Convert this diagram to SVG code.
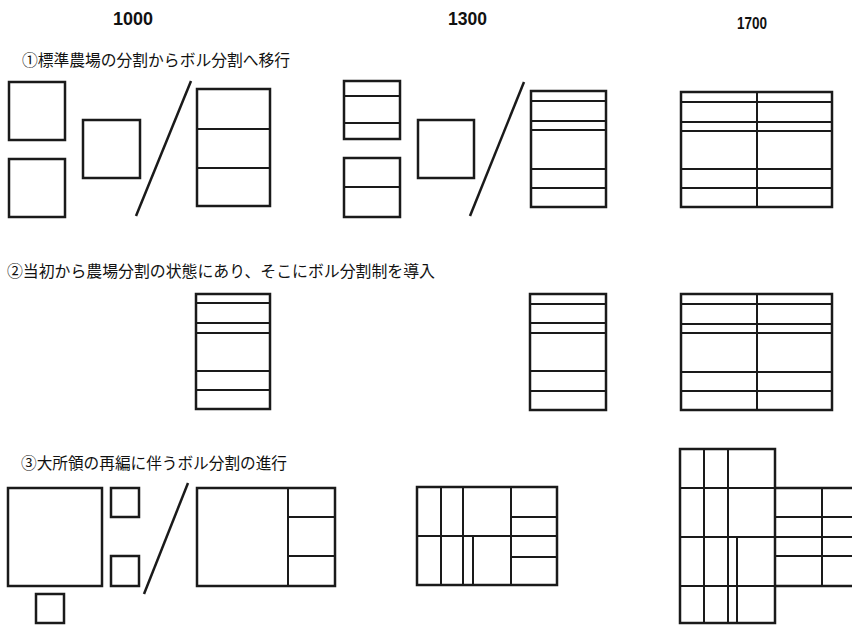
<svg xmlns="http://www.w3.org/2000/svg" width="852" height="625" viewBox="0 0 852 625">
<style>
.o{fill:none;stroke:#1a1a1a;stroke-width:2.5}
.l{fill:none;stroke:#1a1a1a;stroke-width:2}
.yr{font-family:"Liberation Sans",Arial,sans-serif;font-weight:bold;fill:#111}
.t{font-family:"Noto Sans CJK JP","Noto Sans CJK SC",sans-serif;font-size:16px;fill:#111}
</style>
<rect width="852" height="625" fill="#fff"/>
<g id="years">
<text class="yr" x="113" y="25" font-size="19" textLength="40" lengthAdjust="spacingAndGlyphs">1000</text>
<text class="yr" x="448" y="25" font-size="19" textLength="39" lengthAdjust="spacingAndGlyphs">1300</text>
<text class="yr" x="737" y="29" font-size="16" textLength="30" lengthAdjust="spacingAndGlyphs">1700</text>
</g>
<g id="titles">
<text class="t" x="22" y="66" textLength="268" lengthAdjust="spacingAndGlyphs">①標準農場の分割からボル分割へ移行</text>
<text class="t" x="7" y="277" textLength="428" lengthAdjust="spacingAndGlyphs">②当初から農場分割の状態にあり、そこにボル分割制を導入</text>
<text class="t" x="21" y="469" textLength="266" lengthAdjust="spacingAndGlyphs">③大所領の再編に伴うボル分割の進行</text>
</g>
<g id="row1">
<g id="r1-1000">
<rect class="o" x="9" y="82" width="56" height="58"/>
<rect class="o" x="9" y="159" width="56" height="58"/>
<rect class="o" x="83" y="120" width="57" height="58"/>
<line class="o" x1="191" y1="81" x2="136" y2="216"/>
<rect class="o" x="197" y="89" width="73" height="117"/>
<path class="l" d="M197 129H270M197 168H270"/>
</g>
<g id="r1-1300">
<rect class="o" x="344" y="81" width="56" height="58"/>
<path class="l" d="M344 96H400M344 123H400"/>
<rect class="o" x="344" y="158" width="56" height="59"/>
<path class="l" d="M344 187H400"/>
<rect class="o" x="418" y="120" width="56" height="58"/>
<line class="o" x1="524" y1="82" x2="470" y2="216"/>
<rect class="o" x="531" y="91" width="75" height="116"/>
<path class="l" d="M531 101H606M531 121H606M531 130H606M531 169H606M531 188H606"/>
</g>
<g id="r1-1700">
<rect class="o" x="681" y="92" width="151" height="115"/>
<path class="l" d="M757 92V207M681 102H832M681 122H832M681 131H832M681 169H832M681 188H832"/>
</g>
</g>
<g id="row2">
<g id="r2-1000">
<rect class="o" x="196" y="294" width="74" height="115"/>
<path class="l" d="M196 303H270M196 323H270M196 333H270M196 371H270M196 390H270"/>
</g>
<g id="r2-1300">
<rect class="o" x="530" y="294" width="76" height="116"/>
<path class="l" d="M530 304H606M530 323H606M530 333H606M530 371H606M530 391H606"/>
</g>
<g id="r2-1700">
<rect class="o" x="681" y="294" width="151" height="116"/>
<path class="l" d="M757 294V410M681 304H832M681 324H832M681 333H832M681 372H832M681 391H832"/>
</g>
</g>
<g id="row3">
<g id="r3-1000">
<rect class="o" x="8" y="488" width="94" height="98"/>
<rect class="o" x="111" y="488" width="28" height="29"/>
<rect class="o" x="111" y="556" width="28" height="30"/>
<rect class="o" x="36" y="594" width="28" height="29"/>
<line class="o" x1="188" y1="483" x2="144" y2="594"/>
<rect class="o" x="197" y="488" width="138" height="98"/>
<path class="l" d="M288 488V586M288 517H335M288 556H335"/>
</g>
<g id="r3-1300">
<rect class="o" x="417" y="487" width="140" height="98"/>
<path class="l" d="M441 487V585M463 487V585M511 487V585M417 536H557M473 536V585M511 517H557M511 557H557"/>
</g>
<g id="r3-1700">
<rect class="o" x="680" y="449" width="95" height="174"/>
<path class="l" d="M704 449V623M728 449V623M737 537V623M680 488H775M680 537H775M680 586H775"/>
<path class="o" d="M775 488H853M775 586H853"/>
<path class="l" d="M822 488V586M775 517H853M775 556H853M775 537H853"/>
</g>
</g>
</svg>
